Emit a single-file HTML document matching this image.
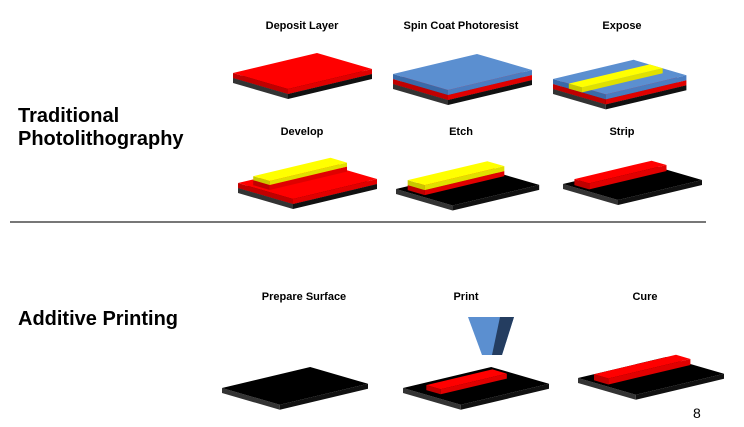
<!DOCTYPE html>
<html><head><meta charset="utf-8"><style>
html,body{margin:0;padding:0;background:#fff;}
svg{display:block;}
.h{font-family:"Liberation Sans",sans-serif;font-weight:bold;font-size:20px;fill:#000;}
.l{font-family:"Liberation Sans",sans-serif;font-weight:bold;font-size:11px;fill:#000;text-anchor:middle;}
</style></head><body>
<svg id="s" width="744" height="427" viewBox="0 0 744 427" xmlns="http://www.w3.org/2000/svg">
<g id="shapes"></g>
<text class="h" x="18" y="122">Traditional</text>
<text class="h" x="18" y="145">Photolithography</text>
<text class="h" x="18" y="325">Additive Printing</text>
<line x1="10" y1="222" x2="706" y2="222" stroke="#777" stroke-width="2"/>
<text class="l" x="302" y="29">Deposit Layer</text>
<text class="l" x="461" y="29">Spin Coat Photoresist</text>
<text class="l" x="622" y="29">Expose</text>
<text class="l" x="302" y="135">Develop</text>
<text class="l" x="461" y="135">Etch</text>
<text class="l" x="622" y="135">Strip</text>
<text class="l" x="304" y="300">Prepare Surface</text>
<text class="l" x="466" y="300">Print</text>
<text class="l" x="645" y="300">Cure</text>
<text x="693" y="418" style="font-family:'Liberation Sans',sans-serif;font-size:14px;">8</text>
<polygon points="468,317 514,317 502,355 482,355" fill="#5b8fd0"/>
<polygon points="500,317 514,317 502,355 492,355" fill="#243d60"/>
</svg>
<script>
var g=document.getElementById('shapes'),out='';
var C={k:['#000','#333','#111'],r:['#ff0000','#c00000','#e00000'],b:['#5b8fd0','#3a6aa8','#4a7cc0'],y:['#ffff00','#c8c800','#e0e000']};
function slab(x,y,s,u0,u1,v0,v1,c,t){
 function P(u,v){return [x+s*(55*u+84*v), y+s*(16*u-20*v)];}
 function pts(a){return a.map(function(p){return p[0].toFixed(1)+','+p[1].toFixed(1)}).join(' ');}
 var A=P(u0,v0),F=P(u1,v0),R=P(u1,v1),B=P(u0,v1);
 var d=function(p){return [p[0],p[1]+t];};
 var col=C[c];
 out+='<polygon points="'+pts([A,F,d(F),d(A)])+'" fill="'+col[1]+'"/>';
 out+='<polygon points="'+pts([F,R,d(R),d(F)])+'" fill="'+col[2]+'"/>';
 out+='<polygon points="'+pts([A,F,R,B])+'" fill="'+col[0]+'"/>';
}
function full(x,y,s,c,t){slab(x,y,s,0,1,0,1,c,t||5);}
// Deposit
full(233,78,1,'k');full(233,73,1,'r');
// Spin
full(393,84,1,'k');full(393,79,1,'r');full(393,74,1,'b');
// Expose
full(553,89,.96,'k');full(553,84,.96,'r');full(553,79,.96,'b');slab(553,79,.96,.3,.55,0,1,'y',5);
// Develop
full(238,188,1,'k');full(238,183,1,'r');slab(238,178,1,.2,.5,.05,.97,'r',5);slab(238,174,1,.2,.5,.05,.97,'y',4);
// Etch
full(396,189,1.03,'k');slab(396,184,1.03,.13,.43,.05,.97,'r',5);slab(396,179,1.03,.13,.43,.05,.97,'y',5);
// Strip
full(563,184,1,'k');slab(563,178,1,.13,.4,.05,.97,'r',6);
// Prepare
full(222,388,1.05,'k');
// Print
full(403,388,1.05,'k');slab(403,383,1.05,.25,.5,.1,.85,'r',5);
// Cure
full(578,378,1.05,'k');slab(578,372,1.05,.2,.45,.05,.98,'r',6);
g.innerHTML=out;
</script>
</body></html>
